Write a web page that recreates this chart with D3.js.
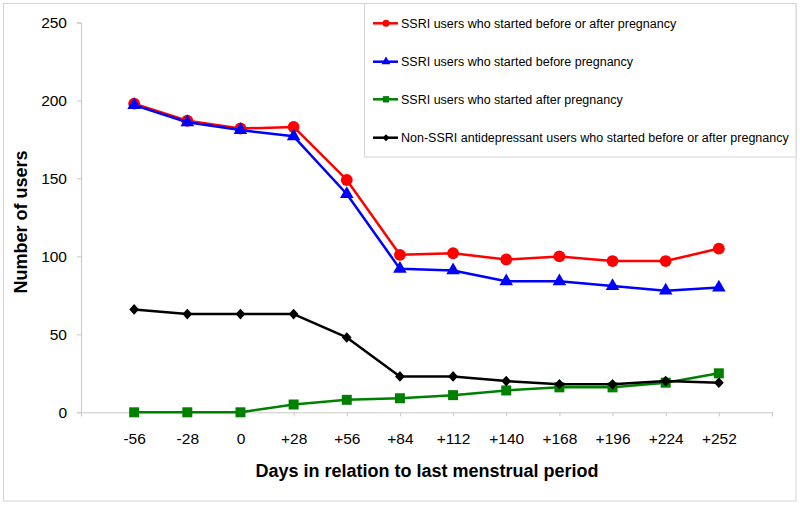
<!DOCTYPE html>
<html>
<head>
<meta charset="utf-8">
<script src="https://cdn.jsdelivr.net/npm/d3@7"></script>
<style>
  body { margin: 0; background: #fff; }
  svg { display: block; font-family: "Liberation Sans", Arial, sans-serif; }
</style>
</head>
<body>
<svg id="chart" width="800" height="505"></svg>
<script>
const categories = ["-56", "-28", "0", "+28", "+56", "+84", "+112", "+140", "+168", "+196", "+224", "+252"];
const ssriAll    = [198, 187, 182, 183, 149, 101, 102, 98, 100, 97, 97, 105];
const ssriBefore = [197, 186, 181, 177, 140, 92, 91, 84, 84, 81, 78, 80];
const ssriAfter  = [0, 0, 0, 5, 8, 9, 11, 14, 16, 16, 19, 25];
const nonSsri    = [66, 63, 63, 63, 48, 23, 23, 20, 18, 18, 20, 19];
const seriesNames = [
  "SSRI users who started before or after pregnancy",
  "SSRI users who started before pregnancy",
  "SSRI users who started after pregnancy",
  "Non-SSRI antidepressant users who started before or after pregnancy"
];
const yTicks = [0, 50, 100, 150, 200, 250];

const series = [
  { name: seriesNames[0], values: ssriAll,    color: "#ff0000", symbol: "circle" },
  { name: seriesNames[1], values: ssriBefore, color: "#0000ff", symbol: "triangle" },
  { name: seriesNames[2], values: ssriAfter,  color: "#008000", symbol: "square" },
  { name: seriesNames[3], values: nonSsri,    color: "#000000", symbol: "diamond" }
];

const svg = d3.select("#chart");
const plotLeft = 81, plotRight = 772, plotTop = 22.5, plotBottom = 412.3;

const x = d3.scaleLinear().domain([-1, categories.length]).range([plotLeft, plotRight]);
const y = d3.scaleLinear().domain([0, 250]).range([plotBottom, plotTop]);

// outer frame
svg.append("rect").attr("x", 3.5).attr("y", 3.5).attr("width", 792.5).attr("height", 497.5)
  .attr("fill", "none").attr("stroke", "#d4d4d4").attr("stroke-width", 1);

const axisColor = "#c8c8c8";

// Y axis
const yAxis = svg.append("g").attr("transform", `translate(${plotLeft},0)`)
  .call(d3.axisLeft(y).tickValues(yTicks).tickSize(4).tickPadding(10).tickFormat(d3.format("d")));
yAxis.select(".domain").attr("stroke", axisColor).attr("stroke-width", 1);
yAxis.selectAll(".tick line").attr("stroke", axisColor);
yAxis.selectAll(".tick text").attr("font-size", "15.5px").attr("fill", "#000")
  .attr("font-family", "Liberation Sans, Arial, sans-serif");

// X axis (ticks at category positions and ends)
const xTickVals = d3.range(-1, categories.length + 1);
const xAxis = svg.append("g").attr("transform", `translate(0,${plotBottom})`)
  .call(d3.axisBottom(x).tickValues(xTickVals).tickSize(4).tickPadding(17)
    .tickFormat(d => (d >= 0 && d < categories.length) ? categories[d] : ""));
xAxis.select(".domain").attr("stroke", axisColor).attr("stroke-width", 1);
xAxis.selectAll(".tick line").attr("stroke", axisColor);
xAxis.selectAll(".tick text").attr("font-size", "15.5px").attr("fill", "#000")
  .attr("font-family", "Liberation Sans, Arial, sans-serif");

// Axis titles
svg.append("text").attr("x", 427).attr("y", 477).attr("text-anchor", "middle")
  .attr("font-size", "18px").attr("font-weight", "bold").text("Days in relation to last menstrual period");
svg.append("text").attr("transform", "translate(27,222) rotate(-90)").attr("text-anchor", "middle")
  .attr("font-size", "18px").attr("font-weight", "bold").text("Number of users");

// symbols
const symbolTypes = {
  circle: d3.symbolCircle, triangle: d3.symbolTriangle,
  square: d3.symbolSquare, diamond: d3.symbolDiamond2
};
const symbolSizes = { circle: 110, triangle: 80, square: 100, diamond: 72 };

const line = d3.line().x((d, i) => x(i)).y(d => y(d));

series.forEach(s => {
  const g = svg.append("g");
  g.append("path").datum(s.values).attr("d", line)
    .attr("fill", "none").attr("stroke", s.color).attr("stroke-width", 2.5).attr("stroke-linejoin", "round");
  g.selectAll("path.m").data(s.values).enter().append("path").attr("class", "m")
    .attr("transform", (d, i) => `translate(${x(i)},${y(d)})` + (s.symbol === "diamond" ? " scale(0.92,1)" : ""))
    .attr("d", d3.symbol().type(symbolTypes[s.symbol]).size(symbolSizes[s.symbol]))
    .attr("fill", s.color);
});

// Legend
const lg = svg.append("g");
lg.append("rect").attr("x", 364.5).attr("y", 3.5).attr("width", 431.5).attr("height", 153.5)
  .attr("fill", "#fff").attr("stroke", "#d4d4d4");
const legendYs = [23.3, 61.7, 99.3, 137.7];
const legendSizes = { circle: 40, triangle: 34, square: 40, diamond: 30 };
series.forEach((s, i) => {
  const ly = legendYs[i];
  lg.append("line").attr("x1", 373).attr("x2", 398).attr("y1", ly).attr("y2", ly)
    .attr("stroke", s.color).attr("stroke-width", 2.5);
  lg.append("path").attr("transform", `translate(386,${ly})`)
    .attr("d", d3.symbol().type(symbolTypes[s.symbol]).size(legendSizes[s.symbol]))
    .attr("fill", s.color);
  lg.append("text").attr("x", 401).attr("y", ly + 4.5).attr("font-size", "12.5px").attr("fill", "#000")
    .text(s.name);
});
</script>
</body>
</html>
